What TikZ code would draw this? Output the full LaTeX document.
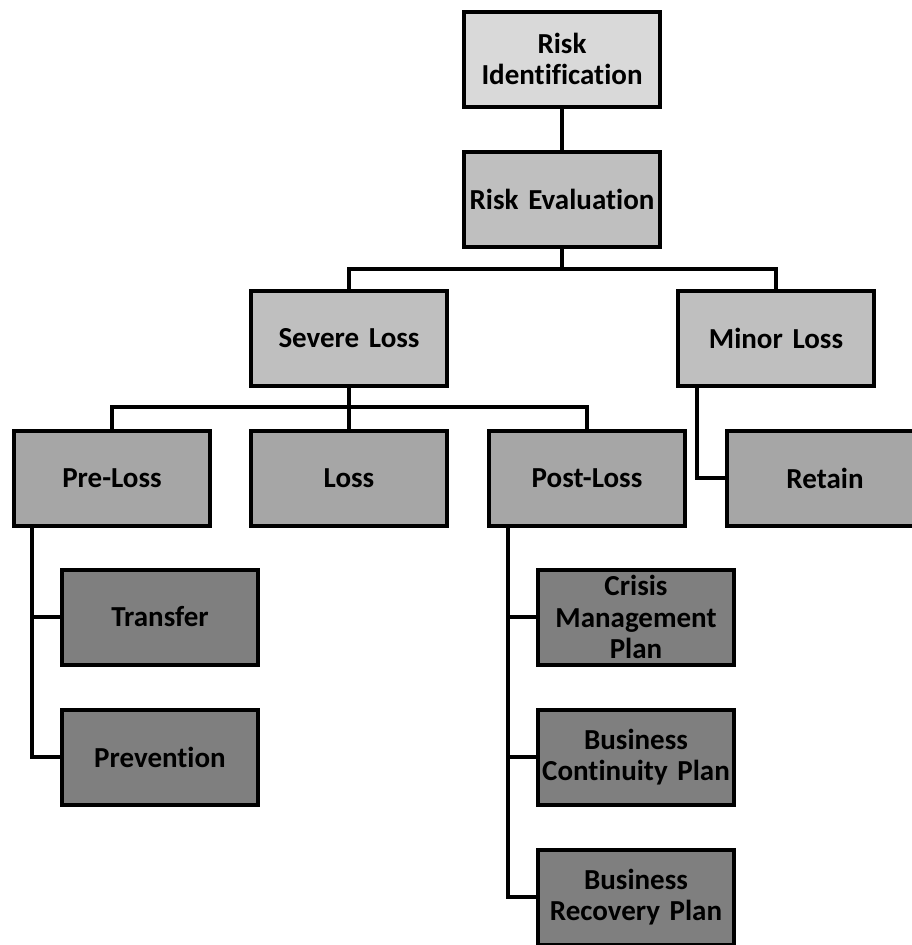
\documentclass[tikz,border=0pt]{standalone}
\usepackage{fontspec}
\setmainfont{Carlito}[Ligatures=NoCommon]
\usetikzlibrary{calc}
\begin{document}
\begin{tikzpicture}[x=1pt,y=-1pt,
  box/.style={draw=black,line width=4pt,rectangle,minimum width=194pt,minimum height=95pt,
    inner sep=0pt,align=center,text width=196pt,
    font=\fontsize{29}{31.5}\selectfont\bfseries},
  lvA/.style={box,fill=lvAcol},
  lvB/.style={box,fill=lvBcol},
  lvC/.style={box,fill=lvCcol},
  lvD/.style={box,fill=lvDcol},
  link/.style={draw=black,line width=3.6pt}]
\definecolor{lvAcol}{HTML}{D9D9D9}
\definecolor{lvBcol}{HTML}{BFBFBF}
\definecolor{lvCcol}{HTML}{A6A6A6}
\definecolor{lvDcol}{HTML}{7F7F7F}
\useasboundingbox (0,0) rectangle (912,945);
\clip (0,0) rectangle (912,945);

% box centres
\coordinate (ri) at (562,59);
\coordinate (re) at (562,199);
\coordinate (sl) at (349,338);
\coordinate (ml) at (776,338);
\coordinate (pl) at (112,478);
\coordinate (lo) at (349,478);
\coordinate (po) at (587,478);
\coordinate (rt) at (825,478);
\coordinate (tr) at (160,617);
\coordinate (pv) at (160,757);
\coordinate (cm) at (636,617);
\coordinate (bc) at (636,757);
\coordinate (br) at (636,897);

% evaluation splits into severe and minor loss
\coordinate (j1) at ($(re)+(0,70)$);
% severe loss splits into the three phases
\coordinate (j2) at ($(sl)+(0,69)$);
% side rails
\coordinate (mlrail) at ($(ml)+(-79,0)$);
\coordinate (plrail) at ($(pl)+(-80,0)$);
\coordinate (porail) at ($(po)+(-79,0)$);

% connectors first, so the boxes sit on top of them
\draw[link] (ri) -- (re);
\draw[link] (re) -- (j1);
\draw[link] (j1) -| (sl);
\draw[link] (j1) -| (ml);
\draw[link] (sl) -- (j2);
\draw[link] (j2) -| (pl);
\draw[link] (j2) -| (lo);
\draw[link] (j2) -| (po);
\draw[link] (mlrail) |- (rt);
\draw[link] (plrail) |- (tr);
\draw[link] (plrail) |- (pv);
\draw[link] (porail) |- (cm);
\draw[link] (porail) |- (bc);
\draw[link] (porail) |- (br);

% boxes
\node[lvA] at (ri) {Risk\\Identification};
\node[lvB] at (re) {Risk Evaluation};
\node[lvB] at (sl) {Severe Loss};
\node[lvB] at (ml) {Minor Loss};
\node[lvC] at (pl) {Pre-Loss};
\node[lvC] at (lo) {Loss};
\node[lvC] at (po) {Post-Loss};
\node[lvC] at (rt) {Retain};
\node[lvD] at (tr) {Transfer};
\node[lvD] at (pv) {Prevention};
\node[lvD] at (cm) {Crisis\\Management\\Plan};
\node[lvD] at (bc) {Business\\Continuity Plan};
\node[lvD] at (br) {Business\\Recovery Plan};
\end{tikzpicture}
\end{document}
